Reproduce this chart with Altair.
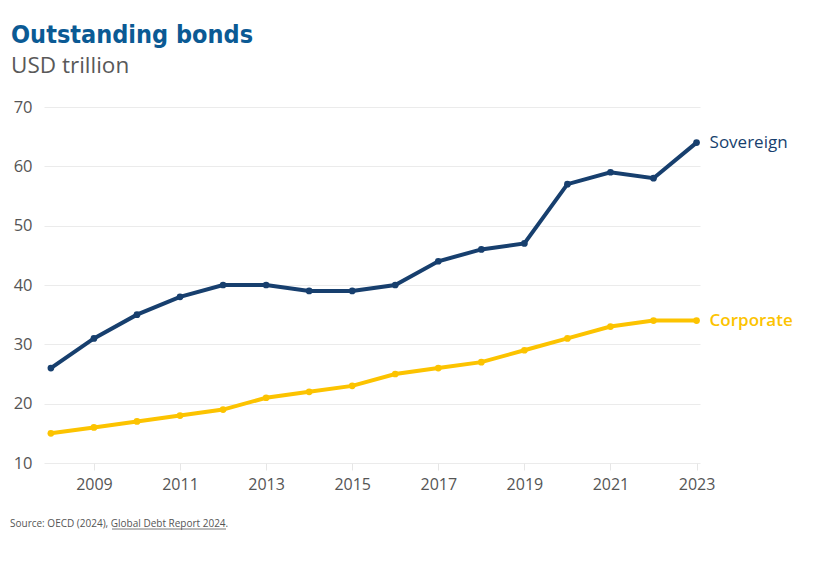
import altair as alt
import pandas as pd

years = list(range(2008, 2024))
sovereign = [26, 31, 35, 38, 40, 40, 39, 39, 40, 44, 46, 47, 57, 59, 58, 64]
corporate = [15, 16, 17, 18, 19, 21, 22, 23, 25, 26, 27, 29, 31, 33, 34, 34]
series_names = ["Sovereign", "Corporate"]
series_colors = ["#173f6e", "#fcc300"]
x_ticks = [2009, 2011, 2013, 2015, 2017, 2019, 2021, 2023]
y_ticks = [10, 20, 30, 40, 50, 60, 70]

rows = []
for y, s, c in zip(years, sovereign, corporate):
    rows.append({"year": y, "series": "Sovereign", "value": s})
    rows.append({"year": y, "series": "Corporate", "value": c})
df = pd.DataFrame(rows)

W, H = 656, 356

x = alt.X("year:Q", scale=alt.Scale(domain=[2007.84, 2023.08], nice=False, zero=False),
          axis=alt.Axis(values=x_ticks, format="d", title=None, grid=False, domain=False,
                        ticks=True, tickColor="#e6e6e6", tickSize=7, labelFontSize=16,
                        labelColor="#555555", labelFont="Open Sans", labelFontWeight=500,
                        labelPadding=6))
y = alt.Y("value:Q", scale=alt.Scale(domain=[10, 70], nice=False, zero=False),
          axis=alt.Axis(values=y_ticks, title=None, domain=False, ticks=False,
                        gridColor="#ebebeb", labelFontSize=16.5, labelColor="#555555",
                        labelFont="Open Sans", labelFontWeight=500, labelPadding=12))
color = alt.Color("series:N", scale=alt.Scale(domain=series_names, range=series_colors), legend=None)

base = alt.Chart(df)
lines = base.mark_line(strokeWidth=4).encode(x=x, y=y, color=color)
points = base.mark_circle(size=45, opacity=1).encode(x=x, y=y, color=color)
label_sov = base.transform_filter((alt.datum.year == 2023) & (alt.datum.series == "Sovereign")).mark_text(
    align="left", baseline="middle", dx=13, fontSize=17, font="Open Sans", fontWeight=500
).encode(x=x, y=y, text="series:N", color=color)
label_corp = base.transform_filter((alt.datum.year == 2023) & (alt.datum.series == "Corporate")).mark_text(
    align="left", baseline="middle", dx=13, fontSize=17, font="Open Sans", fontWeight=600
).encode(x=x, y=y, text="series:N", color=color)

source = alt.Chart(pd.DataFrame({"t": ["Source: OECD (2024), Global Debt Report 2024."]})).mark_text(
    align="left", baseline="alphabetic", fontSize=10, font="Open Sans", color="#555555"
).encode(x=alt.value(-34), y=alt.value(H + 64), text="t:N")
underline = alt.Chart(pd.DataFrame({"a": [0]})).mark_rule(color="#555555", strokeWidth=0.8).encode(
    x=alt.value(68), x2=alt.value(182), y=alt.value(H + 66))

chart = alt.layer(lines, points, label_sov, label_corp, source, underline).properties(
    width=W, height=H,
    title=alt.TitleParams(
        text="Outstanding bonds", subtitle="USD trillion", anchor="start", frame="group",
        font="DejaVu Sans Condensed", fontSize=25, fontWeight="bold", color="#0b5a94",
        subtitleFont="Open Sans", subtitleFontSize=22.5, subtitleColor="#595959",
        subtitlePadding=7, dx=-33, offset=22),
    autosize=alt.AutoSizeParams(type="none"),
    padding={"left": 36, "top": 99, "right": 128, "bottom": 101},
).configure_view(stroke=None)

chart.save("out.html", embed_options={"renderer": "svg", "actions": False})
